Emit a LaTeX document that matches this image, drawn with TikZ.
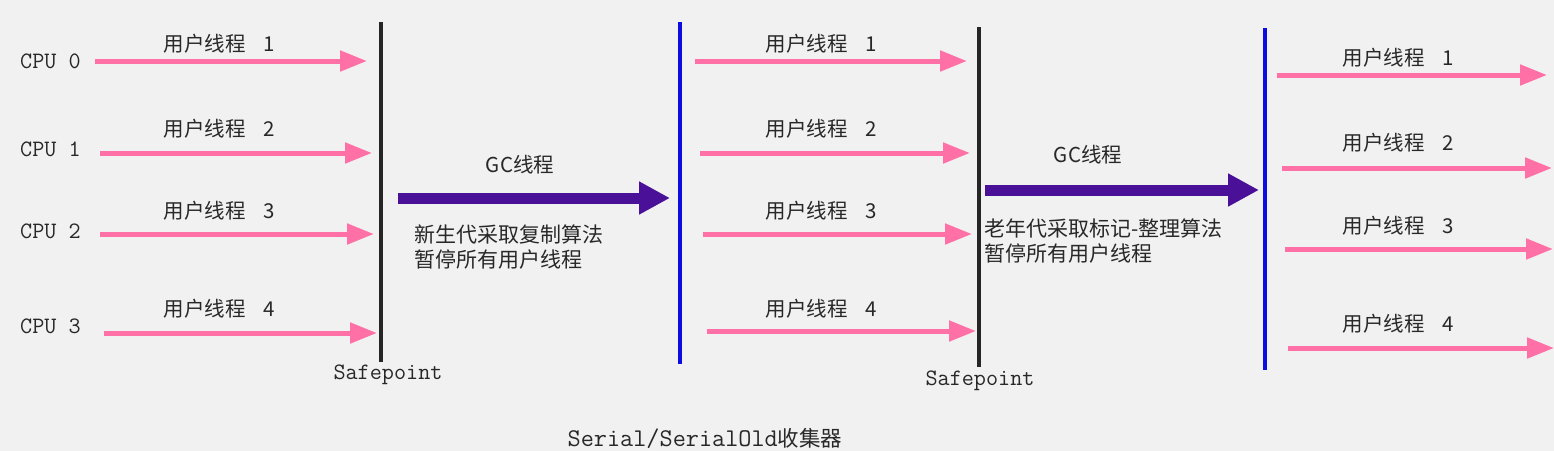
\documentclass[tikz,border=0pt]{standalone}
\usepackage{fontspec}
\setmainfont{Liberation Sans}
\newfontfamily\cjk{Noto Sans CJK SC}
\usetikzlibrary{arrows.meta}
\definecolor{bg}{RGB}{240,241,240}
\definecolor{pinkarr}{RGB}{255,112,166}
\definecolor{gcpurple}{RGB}{74,16,152}
\definecolor{safeblue}{RGB}{12,12,225}
\definecolor{txt}{RGB}{40,40,40}
\tikzset{
  usr/.style={draw=pinkarr, line width=5pt, -{Triangle[length=27pt,width=20pt]}, shorten >=-2pt},
  gc/.style={draw=gcpurple, line width=11pt, -{Triangle[length=31pt,width=31pt]}},
  sp/.style={line width=4pt, draw=black!85},
  resume/.style={line width=4pt, draw=safeblue},
  lbl/.style={text=txt, font=\cjk\fontsize{20.5}{22}\selectfont, inner sep=0pt},
  mono/.style={text=txt, font=\ttfamily\fontsize{23.5}{24}\selectfont, inner sep=0pt},
  note/.style={text=txt, font=\cjk\fontsize{21}{25}\selectfont, inner sep=0pt, align=left, anchor=north west},
}
\begin{document}
\begin{tikzpicture}[x=1pt,y=-1pt]
\fill[bg] (0,0) rectangle (1554,451);
\useasboundingbox (0,0) rectangle (1554,451);

% CPU labels
\node[mono, anchor=west] (c0) at (20,61) {CPU 0};
\node[mono, anchor=west] (c1) at (20,149) {CPU 1};
\node[mono, anchor=west] (c2) at (20,231) {CPU 2};
\node[mono, anchor=west] (c3) at (20,326) {CPU 3};

% vertical lines
\coordinate (s1t) at (381,22); \coordinate (s1b) at (381,362);
\coordinate (b1t) at (680,22); \coordinate (b1b) at (680,364);
\coordinate (s2t) at (979,27); \coordinate (s2b) at (979,367);
\coordinate (b2t) at (1265,28); \coordinate (b2b) at (1265,370);
\draw[sp] (s1t) -- (s1b);
\draw[resume] (b1t) -- (b1b);
\draw[sp] (s2t) -- (s2b);
\draw[resume] (b2t) -- (b2b);

\node[mono] (sp1) at (388,375) {Safepoint};
\node[mono] (sp2) at (980,381) {Safepoint};

% section 1 arrows
\coordinate (a1s) at (95,61);  \coordinate (a1e) at (365,61);
\coordinate (a2s) at (100,153); \coordinate (a2e) at (370,153);
\coordinate (a3s) at (100,234); \coordinate (a3e) at (372,234);
\coordinate (a4s) at (104,333); \coordinate (a4e) at (375,333);
\draw[usr] (a1s) -- (a1e);
\draw[usr] (a2s) -- (a2e);
\draw[usr] (a3s) -- (a3e);
\draw[usr] (a4s) -- (a4e);
\node[lbl] (l1) at (219,44) {用户线程\hspace{0.85em}1};
\node[lbl] (l2) at (219,129) {用户线程\hspace{0.85em}2};
\node[lbl] (l3) at (219,211) {用户线程\hspace{0.85em}3};
\node[lbl] (l4) at (219,309) {用户线程\hspace{0.85em}4};

% GC 1
\coordinate (g1s) at (398,198); \coordinate (g1e) at (670,198);
\draw[gc] (g1s) -- (g1e);
\node[lbl] (gl1) at (520,165) {GC线程};
\node[note] (n1) at (414,225) {新生代采取复制算法\\暂停所有用户线程};

% section 2 arrows
\coordinate (m1s) at (695,61);  \coordinate (m1e) at (965,61);
\coordinate (m2s) at (700,153); \coordinate (m2e) at (968,153);
\coordinate (m3s) at (703,234); \coordinate (m3e) at (970,234);
\coordinate (m4s) at (707,331); \coordinate (m4e) at (974,331);
\draw[usr] (m1s) -- (m1e);
\draw[usr] (m2s) -- (m2e);
\draw[usr] (m3s) -- (m3e);
\draw[usr] (m4s) -- (m4e);
\node[lbl] (ml1) at (821,44) {用户线程\hspace{0.85em}1};
\node[lbl] (ml2) at (821,129) {用户线程\hspace{0.85em}2};
\node[lbl] (ml3) at (821,211) {用户线程\hspace{0.85em}3};
\node[lbl] (ml4) at (821,309) {用户线程\hspace{0.85em}4};

% GC 2
\coordinate (g2s) at (985,190); \coordinate (g2e) at (1259,190);
\draw[gc] (g2s) -- (g2e);
\node[lbl] (gl2) at (1088,155) {GC线程};
\node[note] (n2) at (984,219) {老年代采取标记-整理算法\\暂停所有用户线程};

% section 3 arrows
\coordinate (r1s) at (1277,75);  \coordinate (r1e) at (1545,75);
\coordinate (r2s) at (1282,168); \coordinate (r2e) at (1550,168);
\coordinate (r3s) at (1285,249); \coordinate (r3e) at (1551,249);
\coordinate (r4s) at (1288,348); \coordinate (r4e) at (1552,348);
\draw[usr] (r1s) -- (r1e);
\draw[usr] (r2s) -- (r2e);
\draw[usr] (r3s) -- (r3e);
\draw[usr] (r4s) -- (r4e);
\node[lbl] (rl1) at (1398,58) {用户线程\hspace{0.85em}1};
\node[lbl] (rl2) at (1398,143) {用户线程\hspace{0.85em}2};
\node[lbl] (rl3) at (1398,226) {用户线程\hspace{0.85em}3};
\node[lbl] (rl4) at (1398,324) {用户线程\hspace{0.85em}4};

% caption
\node[text=txt, inner sep=0pt] (cap) at (705,438) {\ttfamily\fontsize{25.5}{26}\selectfont Serial/SerialOld\cjk\fontsize{21.5}{24}\selectfont 收集器};
\end{tikzpicture}
\end{document}
